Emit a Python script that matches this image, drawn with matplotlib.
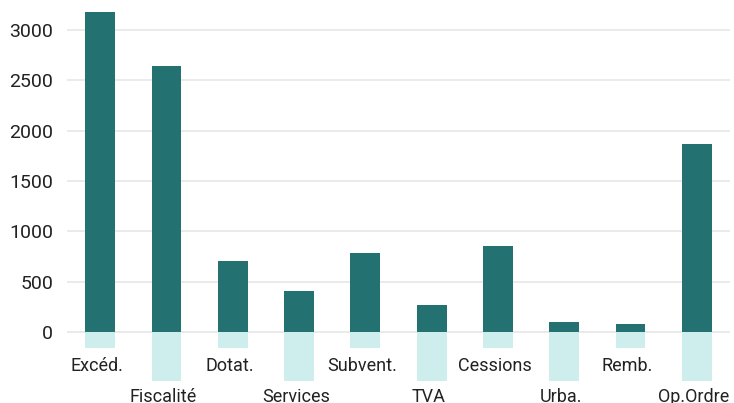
import matplotlib.pyplot as plt

plt.rcParams['font.family'] = ['Roboto', 'DejaVu Sans']

categories = ['Excéd.', 'Fiscalité', 'Dotat.', 'Services', 'Subvent.',
              'TVA', 'Cessions', 'Urba.', 'Remb.', 'Op.Ordre']
values = [3180, 2645, 706, 408, 785, 268, 855, 99, 80, 1869]
# light blocks under the axis (label area)
under = [-155, -485, -155, -485, -155, -485, -155, -485, -155, -485]
yticks = [0, 500, 1000, 1500, 2000, 2500, 3000]

dark = '#237171'
light = '#ceeeed'

fig = plt.figure(figsize=(7.34, 4.03), dpi=100)
ax = fig.add_axes([67 / 734, (403 - 380.7) / 403, 663 / 734, 370.7 / 403])

x = list(range(len(categories)))
ax.bar(x, under, width=0.45, color=light, zorder=2)
ax.bar(x, values, width=0.45, color=dark, zorder=3)

ax.set_xlim(-0.5, len(categories) - 0.5)
ax.set_ylim(-485, 3200)
ax.set_yticks(yticks)
ax.set_xticks([])
ax.tick_params(axis='y', length=0, labelsize=14, colors='#222222', pad=10)
ax.grid(axis='y', color='#e8e8e8', linewidth=1.3, zorder=0)
for s in ax.spines.values():
    s.set_visible(False)

# staggered category labels
for i, name in enumerate(categories):
    y = -388 if i % 2 == 0 else -699
    ax.text(i - 0.05, y, name, ha='center', va='baseline', fontsize=13,
            color='#222222', clip_on=False)

fig.savefig('out.png', dpi=100)
